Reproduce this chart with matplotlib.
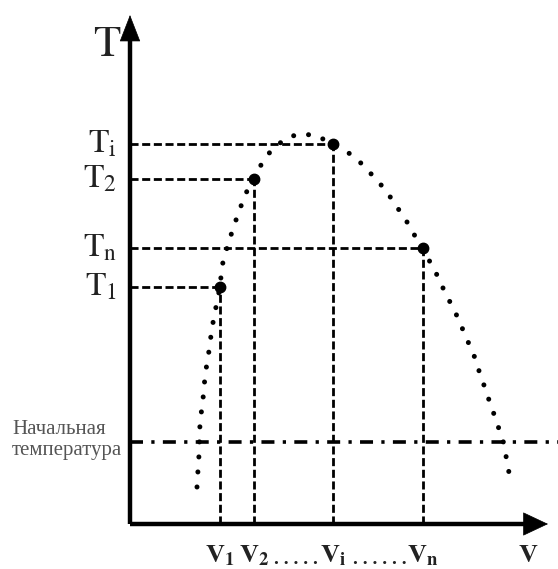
import matplotlib
matplotlib.use("Agg")
import matplotlib.pyplot as plt

plt.rcParams['font.family'] = ['Liberation Serif', 'DejaVu Serif']
plt.rcParams['mathtext.fontset'] = 'stix'

# ---- data ----
point_names = ['1', '2', 'i', 'n']
V_pos = [9.0, 12.4, 20.3, 29.3]          # V1, V2, Vi, Vn
T_val = [23.7, 34.5, 38.0, 27.6]         # T1, T2, Ti, Tn
T_initial = 8.2                           # "Начальная температура"
initial_label = 'Начальная\nтемпература'

curve_v = [6.7, 6.8, 6.9, 7.0, 7.2, 7.4, 7.5, 7.8, 8.0, 8.2, 8.5, 9.0, 9.2, 9.7,
           10.1, 10.6, 11.1, 11.7, 12.4, 13.1, 14.0, 15.0, 16.2, 17.4, 18.7,
           20.3, 22.2, 23.3, 24.3, 25.2, 26.1, 26.9, 27.7, 28.5, 29.3, 30.0,
           30.7, 31.3, 32.0, 32.7, 33.3, 33.9, 34.5, 35.0, 35.5, 36.0, 36.5,
           37.0, 37.4, 37.7, 38.0]
curve_t = [3.7, 5.4, 6.9, 10.1, 11.7, 13.4, 14.9, 16.6, 18.1, 19.6, 21.2, 23.7,
           25.8, 27.6, 28.9, 30.4, 31.8, 33.3, 34.5, 35.9, 37.2, 38.1, 38.8,
           39.0, 38.8, 38.0, 36.9, 35.9, 34.8, 33.8, 32.6, 31.4, 30.2, 28.8,
           27.6, 26.2, 24.9, 23.6, 22.2, 20.8, 19.4, 18.0, 16.6, 15.0, 13.6,
           12.1, 10.7, 9.2, 8.0, 6.2, 4.6]

x_axis_end = 41.8
y_axis_end = 50.9

fig = plt.figure(figsize=(5.58, 5.69), dpi=100)
ax = fig.add_axes([0, 0, 1, 1])
ax.set_xlim(-13.0, 42.8)
ax.set_ylim(-4.5, 52.4)
ax.axis('off')

# axes with arrows
ax.plot([0, x_axis_end - 1.0], [0, 0], color='black', lw=3.2, solid_capstyle='butt')
ax.plot([0, 0], [0, y_axis_end - 1.5], color='black', lw=3.2, solid_capstyle='butt')
ax.annotate('', xy=(x_axis_end, 0), xytext=(x_axis_end - 3, 0),
            arrowprops=dict(arrowstyle='-|>,head_length=0.85,head_width=0.4',
                            mutation_scale=20, color='black', lw=0.5,
                            shrinkA=0, shrinkB=0))
ax.annotate('', xy=(0, y_axis_end), xytext=(0, y_axis_end - 3),
            arrowprops=dict(arrowstyle='-|>,head_length=0.9,head_width=0.35',
                            mutation_scale=20, color='black', lw=0.5,
                            shrinkA=0, shrinkB=0))

# dotted curve
ax.plot(curve_v, curve_t, color='black', lw=3.6, linestyle=(0, (0.01, 3.0)),
        dash_capstyle='round')

# dashed projection lines and points
for v, t in zip(V_pos, T_val):
    ax.plot([0, v], [t, t], color='black', lw=2.0, linestyle=(0, (2.9, 1.3)))
    ax.plot([v, v], [0, t], color='black', lw=2.0, linestyle=(0, (2.9, 1.3)))
ax.plot(V_pos, T_val, 'o', color='black', ms=7.5)

# initial temperature dash-dot line
ax.plot([0, 42.8], [T_initial, T_initial], color='black', lw=2.6,
        linestyle=(0, (3.6, 2.3, 0.9, 2.3)))

# T labels
for name, t in zip(point_names, T_val):
    ax.text(-1.3, t, r'$\mathrm{T}_{\mathrm{%s}}$' % name, ha='right', va='center',
            fontsize=24, color='#222222')
ax.text(-2.3, 47.9, r'$\mathrm{T}$', ha='center', va='center', fontsize=32,
        color='#222222')

# V labels
for name, v in zip(point_names, V_pos):
    ax.text(v, -3.2, r'$\mathbf{V}_{\mathbf{%s}}$' % name, ha='center', va='center',
            fontsize=19, color='#222222')
ax.text((V_pos[1] + V_pos[2]) / 2 + 0.2, -3.6, '. . . . .', ha='center', va='center',
        fontsize=14, fontweight='bold', color='#222222')
ax.text((V_pos[2] + V_pos[3]) / 2 + 0.2, -3.6, '. . . . . .', ha='center', va='center',
        fontsize=14, fontweight='bold', color='#222222')
ax.text(39.8, -3.2, r'$\mathbf{V}$', ha='center', va='center', fontsize=19,
        color='#222222')

ax.text(-11.8, T_initial + 0.2, initial_label, ha='left', va='center',
        fontsize=15, color='#555555', linespacing=1.2)

fig.savefig('out.png', dpi=100)
